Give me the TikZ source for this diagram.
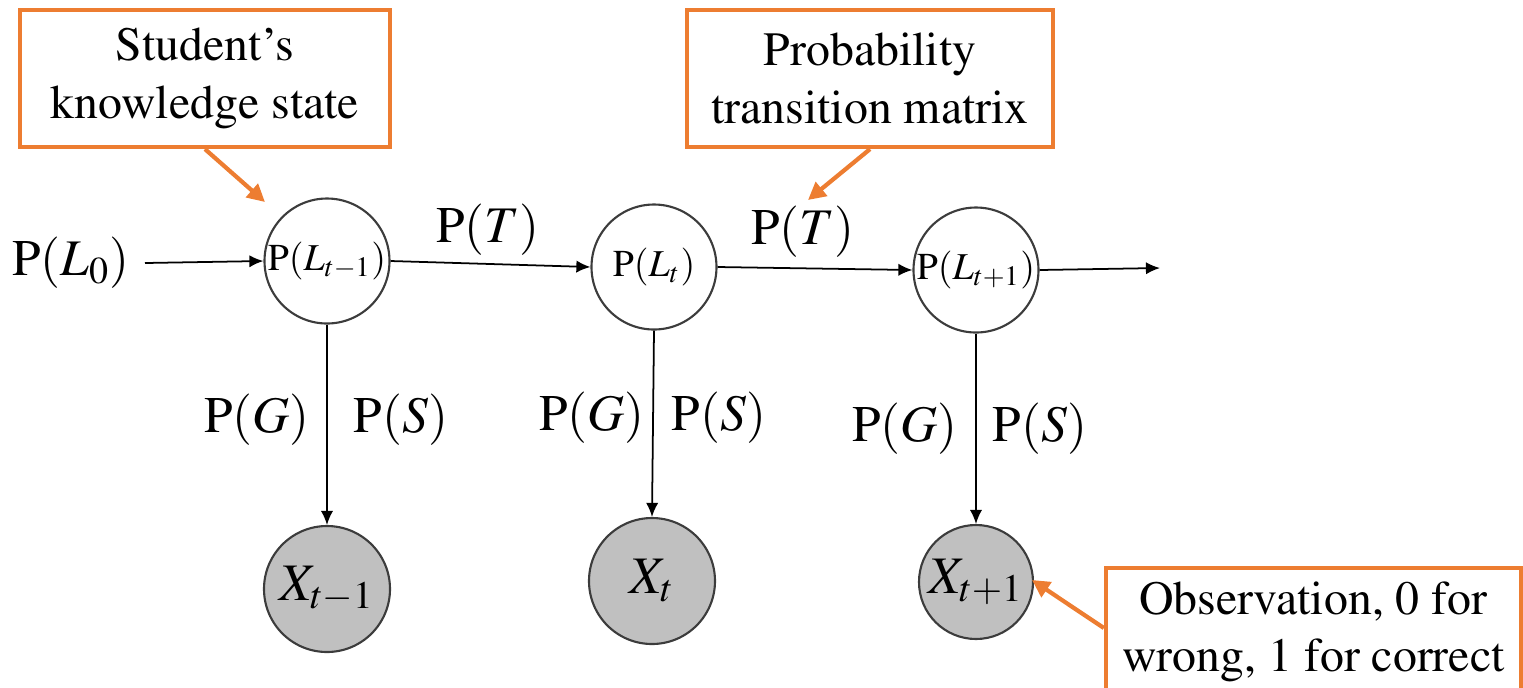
\documentclass[tikz,border=0pt]{standalone}
\usepackage[T1]{fontenc}
\usepackage{mathptmx}
\usetikzlibrary{arrows.meta}
\definecolor{callout}{RGB}{237,125,49}
\definecolor{obsfill}{RGB}{192,192,192}
\definecolor{ringgray}{RGB}{60,60,60}
\tikzset{
  calloutbox/.style={draw=callout, line width=1.2pt, align=center, inner sep=0pt,
    font=\fontsize{13.6}{16.4}\selectfont},
  calloutarrow/.style={draw=callout, line width=1.2pt, -{Triangle[length=5pt,width=5pt]}},
  hidden/.style={circle, draw=ringgray, line width=0.6pt, minimum size=125*0.01cm, inner sep=0pt,
    font=\fontsize{10.8}{12}\selectfont},
  observed/.style={circle, draw=ringgray, line width=0.6pt, fill=obsfill, inner sep=0pt,
    font=\fontsize{15}{17}\selectfont},
  biglabel/.style={inner sep=0pt, font=\fontsize{14.6}{17}\selectfont},
  link/.style={draw=black, line width=0.5pt, -{Latex[length=4pt,width=3.5pt]}}
}
\begin{document}
\begin{tikzpicture}[x=0.01cm,y=-0.01cm]
\useasboundingbox (0,0) rectangle (1523,687);
\clip (0,0) rectangle (1523,687);
% callout boxes
\node[calloutbox, minimum width=370*0.01cm, minimum height=137*0.01cm] (b1) at (205,78.5)
  {Student's\\knowledge state};
\node[calloutbox, minimum width=366*0.01cm, minimum height=137*0.01cm] (b2) at (870,78.5)
  {Probability\\transition matrix};
\node[calloutbox, minimum width=415*0.01cm, minimum height=128*0.01cm] (b3) at (1313.5,632)
  {Observation, 0 for\\wrong, 1 for correct};
% hidden states
\node[hidden] (L1) at (327,261) {$\mathrm{P}(L_{t-1})$};
\node[hidden] (L2) at (654,267) {$\mathrm{P}(L_{t})$};
\node[hidden] (L3) at (976,270) {$\mathrm{P}(L_{t+1})$};
% observations
\node[observed, minimum size=126*0.01cm] (X1) at (327,589) {$X_{t-1}$};
\node[observed, minimum size=126*0.01cm] (X2) at (652,581) {$X_{t}$};
\node[observed, minimum size=114*0.01cm] (X3) at (976,582) {$X_{t+1}$};
% labels
\node[biglabel] (p0) at (71,263) {$\mathrm{P}(L_0)$};
\node[biglabel] (pt1) at (488,230) {$\mathrm{P}(T)$};
\node[biglabel] (pt2) at (803,232) {$\mathrm{P}(T)$};
\node[biglabel] (pg1) at (257,420) {$\mathrm{P}(G)$};
\node[biglabel] (ps1) at (401,420) {$\mathrm{P}(S)$};
\node[biglabel] (pg2) at (592,418) {$\mathrm{P}(G)$};
\node[biglabel] (ps2) at (719,418) {$\mathrm{P}(S)$};
\node[biglabel] (pg3) at (905,429) {$\mathrm{P}(G)$};
\node[biglabel] (ps3) at (1040,429) {$\mathrm{P}(S)$};
% connectors
\coordinate (start) at (145,263);
\coordinate (finish) at (1160,268);
\draw[link] (start) -- (L1.west);
\draw[link] (L1.east) -- (L2.west);
\draw[link] (L2.east) -- (L3.west);
\draw[link] (L3.east) -- (finish);
\draw[link] (L1.south) -- (X1.north);
\draw[link] (L2.south) -- (X2.north);
\draw[link] (L3.south) -- (X3.north);
% callout arrows
\coordinate (t1) at (265,202);
\coordinate (t2) at (808,200);
\coordinate (t3) at (1032,580);
\draw[calloutarrow] (b1.south) -- (t1);
\draw[calloutarrow] (b2.south) -- (t2);
\draw[calloutarrow] ([yshift=4*0.01cm]b3.west) -- (t3);
\end{tikzpicture}
\end{document}
